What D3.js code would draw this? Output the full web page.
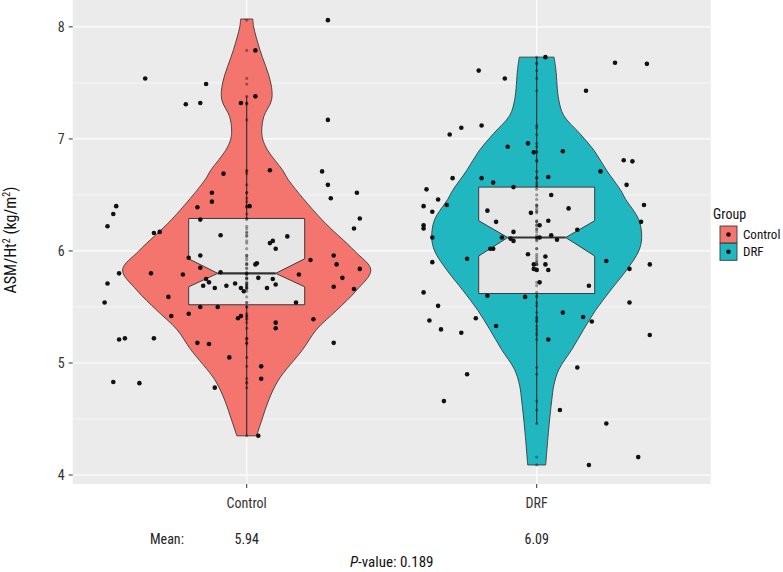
<!DOCTYPE html>
<html>
<head>
<meta charset="utf-8">
<script src="https://cdn.jsdelivr.net/npm/d3@7"></script>
<style>
  body { margin: 0; background: #fff; }
  text { font-family: "Liberation Sans Narrow", "Roboto Condensed", "Roboto", sans-serif; }
</style>
</head>
<body>
<svg id="chart" width="783" height="572"></svg>
<script>
// groups and axis
const categories = ["Control", "DRF"];
const yTicks = [4, 5, 6, 7, 8];
const yMinor = [4.5, 5.5, 6.5, 7.5];
const meanLabels = ["5.94", "6.09"];
const pValue = "0.189";
const fills = ["#F3756D", "#21B7C0"];

// jittered points: [offset from group centre, value]
const controlPts = [
  [-0.35, 7.54], [-0.21, 7.31], [-0.16, 7.32], [-0.14, 7.49], [-0.02, 7.32], [0.03, 7.38],
  [0.03, 7.79], [0.28, 8.06], [0.28, 7.17], [0.26, 6.71], [0.28, 6.59], [0.29, 6.47],
  [0.38, 6.52], [-0.08, 6.69], [0.08, 6.72], [-0.12, 6.52], [-0.12, 6.44], [-0.17, 6.39],
  [-0.16, 6.28], [0.01, 6.40], [-0.32, 6.16], [-0.30, 6.17], [-0.09, 6.14], [0.08, 6.07],
  [0.09, 6.09], [0.10, 6.02], [0.14, 6.13], [-0.20, 5.94], [-0.16, 5.96], [-0.16, 5.85],
  [0.03, 5.88], [0.035, 5.89], [0.22, 5.92], [0.30, 5.96], [0.31, 5.88], [0.39, 5.84],
  [0.39, 6.29], [0.37, 6.20], [-0.33, 5.80], [-0.22, 5.79], [-0.09, 5.81], [-0.14, 5.75],
  [-0.13, 5.72], [-0.15, 5.69], [-0.11, 5.67], [-0.07, 5.69], [-0.04, 5.71], [-0.02, 5.67],
  [-0.01, 5.64], [0.04, 5.76], [0.09, 5.75], [0.07, 5.67], [0.10, 5.70], [0.18, 5.79],
  [0.33, 5.76], [0.30, 5.68], [0.37, 5.66], [0.17, 5.54], [-0.27, 5.59], [-0.16, 5.50],
  [-0.10, 5.50], [-0.26, 5.42], [-0.20, 5.44], [-0.03, 5.40], [-0.02, 5.42], [0.23, 5.39],
  [0.10, 5.36], [0.10, 5.31], [-0.32, 5.22], [0.30, 5.18], [-0.17, 5.18], [-0.13, 5.17],
  [-0.06, 5.05], [-0.45, 6.40], [-0.46, 6.33], [-0.48, 6.22], [-0.49, 5.54], [-0.48, 5.71],
  [-0.44, 5.80], [-0.44, 5.21], [-0.42, 5.22], [-0.46, 4.83], [-0.37, 4.82], [-0.11, 4.78],
  [0.05, 4.86], [0.05, 4.97], [0.04, 4.35]
];
const drfPts = [
  [-0.20, 7.61], [-0.11, 7.54], [0.03, 7.73], [0.27, 7.68], [0.38, 7.67], [0.17, 7.43],
  [-0.30, 7.04], [-0.26, 7.10], [-0.19, 7.12], [-0.10, 6.93], [-0.03, 6.96], [-0.01, 6.88],
  [0.09, 6.89], [0.30, 6.81], [0.33, 6.80], [0.22, 6.71], [-0.29, 6.65], [-0.19, 6.65],
  [-0.15, 6.61], [-0.08, 6.57], [0.04, 6.66], [0.05, 6.50], [0.31, 6.59], [-0.34, 6.46],
  [-0.38, 6.55], [-0.39, 6.40], [-0.36, 6.35], [-0.31, 6.41], [-0.39, 6.23], [-0.39, 6.20],
  [-0.36, 6.12], [-0.17, 6.36], [-0.14, 6.26], [-0.02, 6.34], [0.04, 6.27], [0.01, 6.23],
  [0.11, 6.38], [0.14, 6.19], [-0.08, 6.17], [-0.12, 6.12], [-0.09, 6.11], [-0.08, 6.09],
  [0.01, 6.12], [0.05, 6.14], [0.07, 6.10], [-0.36, 5.90], [-0.24, 5.93], [-0.16, 6.02],
  [-0.15, 6.02], [-0.03, 5.97], [0.03, 5.95], [-0.01, 5.88], [0.03, 5.88], [0.04, 5.83],
  [-0.01, 5.84], [0.00, 5.83], [0.01, 5.72], [0.24, 5.91], [0.32, 5.84], [0.18, 5.69],
  [-0.39, 5.63], [-0.17, 5.60], [-0.04, 5.59], [-0.34, 5.51], [-0.37, 5.38], [-0.33, 5.30],
  [-0.26, 5.27], [-0.21, 5.40], [-0.14, 5.33], [0.09, 5.45], [0.16, 5.41], [0.19, 5.37],
  [0.32, 5.54], [0.04, 5.21], [-0.24, 4.90], [-0.32, 4.66], [0.14, 4.96], [0.08, 4.58],
  [0.24, 4.46], [0.35, 4.16], [0.18, 4.09], [0.37, 6.41], [0.36, 6.26], [0.39, 5.88],
  [0.39, 5.25]
];

// violin outline: [value, half width]
const controlViolin = [
  [4.35, 0.034], [4.49, 0.052], [4.67, 0.076], [4.85, 0.11], [5.12, 0.193], [5.3, 0.241],
  [5.47, 0.31], [5.65, 0.379], [5.83, 0.428], [6.0, 0.372], [6.28, 0.259], [6.63, 0.145],
  [6.72, 0.124], [6.9, 0.072], [7.0, 0.055], [7.08, 0.052], [7.2, 0.059], [7.35, 0.086],
  [7.5, 0.083], [7.8, 0.045], [8.0, 0.024], [8.07, 0.021]
];
const drfViolin = [
  [4.09, 0.031], [4.4, 0.041], [4.67, 0.052], [4.8, 0.059], [4.94, 0.076], [5.12, 0.121],
  [5.3, 0.162], [5.47, 0.203], [5.65, 0.255], [5.83, 0.31], [6.0, 0.352], [6.12, 0.362],
  [6.28, 0.352], [6.46, 0.307], [6.54, 0.29], [6.72, 0.241], [6.9, 0.197], [7.05, 0.148],
  [7.21, 0.093], [7.35, 0.076], [7.62, 0.066], [7.73, 0.060]
];

// notched box plots
const boxQ1 = [5.52, 5.62];
const boxMed = [5.80, 6.12];
const boxQ3 = [6.29, 6.57];
const notchLo = [5.68, 5.955];
const notchHi = [5.93, 6.27];
const whiskLo = [4.35, 4.46];
const whiskHi = [7.38, 7.73];

const points = [controlPts, drfPts];
const violins = [controlViolin, drfViolin];

const svg = d3.select("#chart"),
    margin = {top: 0, left: 72.7},
    width = 638,
    height = 484;

const x = d3.scaleLinear().domain([0.4, 2.6]).range([0, width]);
const y = d3.scaleLinear().domain([3.92, 8.24]).range([height, 0]);

const g = svg.append("g")
    .attr("transform", "translate(" + margin.left + "," + margin.top + ")");

g.append("rect").attr("width", width).attr("height", height).attr("fill", "#EBEBEB");

g.selectAll(".minor").data(yMinor).enter().append("line")
    .attr("x1", 0).attr("x2", width)
    .attr("y1", d => y(d)).attr("y2", d => y(d))
    .attr("stroke", "#fff").attr("stroke-width", 0.6);
g.selectAll(".major").data(yTicks).enter().append("line")
    .attr("x1", 0).attr("x2", width)
    .attr("y1", d => y(d)).attr("y2", d => y(d))
    .attr("stroke", "#fff").attr("stroke-width", 1.2);
g.selectAll(".vmajor").data(categories).enter().append("line")
    .attr("x1", (d, i) => x(i + 1)).attr("x2", (d, i) => x(i + 1))
    .attr("y1", 0).attr("y2", height)
    .attr("stroke", "#fff").attr("stroke-width", 1.2);

categories.forEach(function(c, i) {
    const cx = i + 1;
    const area = d3.area()
        .y(d => y(d[0]))
        .x0(d => x(cx - d[1]))
        .x1(d => x(cx + d[1]))
        .curve(d3.curveCatmullRom);
    g.append("path")
        .datum(violins[i])
        .attr("d", area)
        .attr("fill", fills[i])
        .attr("stroke", "#3a3a3a")
        .attr("stroke-width", 0.9);

    // whiskers
    g.append("line")
        .attr("x1", x(cx)).attr("x2", x(cx))
        .attr("y1", y(whiskLo[i])).attr("y2", y(whiskHi[i]))
        .attr("stroke", "#2a2a2a").attr("stroke-width", 1.1);

    // notched box
    const bw = 0.2, nw = 0.1;
    const box = [
        [cx - bw, boxQ3[i]], [cx + bw, boxQ3[i]], [cx + bw, notchHi[i]], [cx + nw, boxMed[i]],
        [cx + bw, notchLo[i]], [cx + bw, boxQ1[i]], [cx - bw, boxQ1[i]], [cx - bw, notchLo[i]],
        [cx - nw, boxMed[i]], [cx - bw, notchHi[i]]
    ];
    g.append("path")
        .attr("d", "M" + box.map(p => x(p[0]) + "," + y(p[1])).join("L") + "Z")
        .attr("fill", "#E6E6E6")
        .attr("stroke", "#3a3a3a")
        .attr("stroke-width", 1);
    g.append("line")
        .attr("x1", x(cx - nw)).attr("x2", x(cx + nw))
        .attr("y1", y(boxMed[i])).attr("y2", y(boxMed[i]))
        .attr("stroke", "#333").attr("stroke-width", 2.2);

    // raw values along the centre
    g.selectAll(".centre" + i).data(points[i]).enter().append("circle")
        .attr("cx", x(cx))
        .attr("cy", d => y(d[1]))
        .attr("r", 1.6)
        .attr("fill", "#000")
        .attr("opacity", 0.35);
});

categories.forEach(function(c, i) {
    g.selectAll(".pt" + i).data(points[i]).enter().append("circle")
        .attr("cx", d => x(i + 1 + d[0]))
        .attr("cy", d => y(d[1]))
        .attr("r", 2.3)
        .attr("fill", "#111");
});

// axes
g.selectAll(".ytick").data(yTicks).enter().append("line")
    .attr("x1", -4).attr("x2", 0)
    .attr("y1", d => y(d)).attr("y2", d => y(d))
    .attr("stroke", "#333");
g.selectAll(".ylab").data(yTicks).enter().append("text")
    .attr("x", -8).attr("y", d => y(d)).attr("dy", "0.36em")
    .attr("text-anchor", "end")
    .attr("font-size", 14).attr("fill", "#333")
    .text(d => d);
g.selectAll(".xtick").data(categories).enter().append("line")
    .attr("x1", (d, i) => x(i + 1)).attr("x2", (d, i) => x(i + 1))
    .attr("y1", height).attr("y2", height + 4)
    .attr("stroke", "#333");
g.selectAll(".xlab").data(categories).enter().append("text")
    .attr("x", (d, i) => x(i + 1)).attr("y", 508)
    .attr("text-anchor", "middle")
    .attr("font-size", 14).attr("fill", "#333")
    .text(d => d);

const ytitle = svg.append("text")
    .attr("transform", "translate(16,240) rotate(-90)")
    .attr("text-anchor", "middle")
    .attr("font-size", 16).attr("fill", "#111");
ytitle.append("tspan").text("ASM/Ht");
ytitle.append("tspan").attr("font-size", 10).attr("dy", -6).text("2");
ytitle.append("tspan").attr("dy", 6).text(" (kg/m");
ytitle.append("tspan").attr("font-size", 10).attr("dy", -6).text("2");
ytitle.append("tspan").attr("dy", 6).text(")");

// means row
svg.append("text").attr("x", 150).attr("y", 544)
    .attr("font-size", 14).attr("fill", "#222").text("Mean:");
svg.selectAll(".mean").data(meanLabels).enter().append("text")
    .attr("x", (d, i) => margin.left + x(i + 1))
    .attr("y", 544)
    .attr("text-anchor", "middle")
    .attr("font-size", 14).attr("fill", "#222")
    .text(d => d);

const ptitle = svg.append("text")
    .attr("x", margin.left + width / 2).attr("y", 567)
    .attr("text-anchor", "middle")
    .attr("font-size", 15).attr("fill", "#111");
ptitle.append("tspan").attr("font-style", "italic").text("P");
ptitle.append("tspan").text("-value: " + pValue);

// legend
const legend = svg.append("g").attr("transform", "translate(713,0)");
legend.append("text").attr("x", 0).attr("y", 219)
    .attr("font-size", 14).attr("fill", "#111").text("Group");
categories.forEach(function(c, i) {
    const ky = 226 + i * 17.3;
    legend.append("rect")
        .attr("x", 7).attr("y", ky).attr("width", 17).attr("height", 17)
        .attr("fill", fills[i]).attr("stroke", "#3a3a3a").attr("stroke-width", 0.9);
    legend.append("circle")
        .attr("cx", 15.5).attr("cy", ky + 8.5).attr("r", 2.3).attr("fill", "#111");
    legend.append("text")
        .attr("x", 30).attr("y", ky + 8.5).attr("dy", "0.36em")
        .attr("font-size", 13).attr("fill", "#111").text(c);
});
</script>
</body>
</html>
